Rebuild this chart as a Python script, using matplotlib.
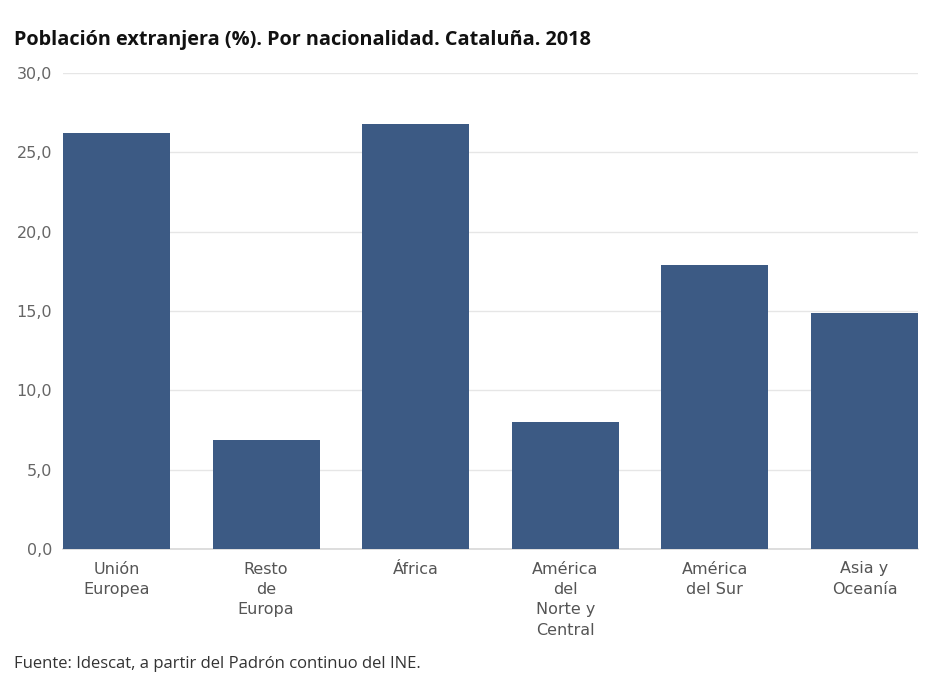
import matplotlib as mpl
mpl.use('Agg')
import matplotlib.pyplot as plt
from matplotlib.ticker import FuncFormatter

# data
categorias = ["Unión\nEuropea", "Resto\nde\nEuropa", "África",
              "América\ndel\nNorte y\nCentral", "América\ndel Sur", "Asia y\nOceanía"]
valores = [26.2, 6.9, 26.8, 8.0, 17.9, 14.9]
yticks = [0, 5, 10, 15, 20, 25, 30]

color_barra = "#3c5a84"
ancho = 0.715

fig = plt.figure(figsize=(9.33, 6.95), dpi=100)
ax = fig.add_axes([63/933, 146/695, 855/933, 476/695])

xs = list(range(len(categorias)))
ax.bar(xs, valores, width=ancho, color=color_barra, zorder=3)

ax.set_xlim(-ancho/2, len(categorias) - 1 + ancho/2)
ax.set_ylim(0, 30)
ax.set_yticks(yticks)
ax.yaxis.set_major_formatter(FuncFormatter(lambda v, p: f"{v:.1f}".replace(".", ",")))
ax.grid(axis='y', color='#e6e6e6', linewidth=1, zorder=0)

for s in ['top', 'right', 'left']:
    ax.spines[s].set_visible(False)
ax.spines['bottom'].set_color('#d8d8d8')
ax.spines['bottom'].set_linewidth(1.2)

ax.tick_params(axis='y', length=0, pad=8, labelsize=11.5, labelcolor='#666666')
ax.tick_params(axis='x', length=0, pad=9, labelsize=11.5, labelcolor='#555555')
ax.set_xticks(xs)
ax.set_xticklabels(categorias, linespacing=1.45, family='DejaVu Sans')
for t in ax.get_yticklabels():
    t.set_family('DejaVu Sans')

fig.text(14/933, 1 - 40/695, "Población extranjera (%). Por nacionalidad. Cataluña. 2018",
         fontsize=14.3, fontweight='bold', family='Open Sans', color='#111111', va='center')
fig.text(14/933, 1 - 664/695, "Fuente: Idescat, a partir del Padrón continuo del INE.",
         fontsize=12, family='Open Sans', color='#333333', va='center')

plt.savefig("out.png", dpi=100)
